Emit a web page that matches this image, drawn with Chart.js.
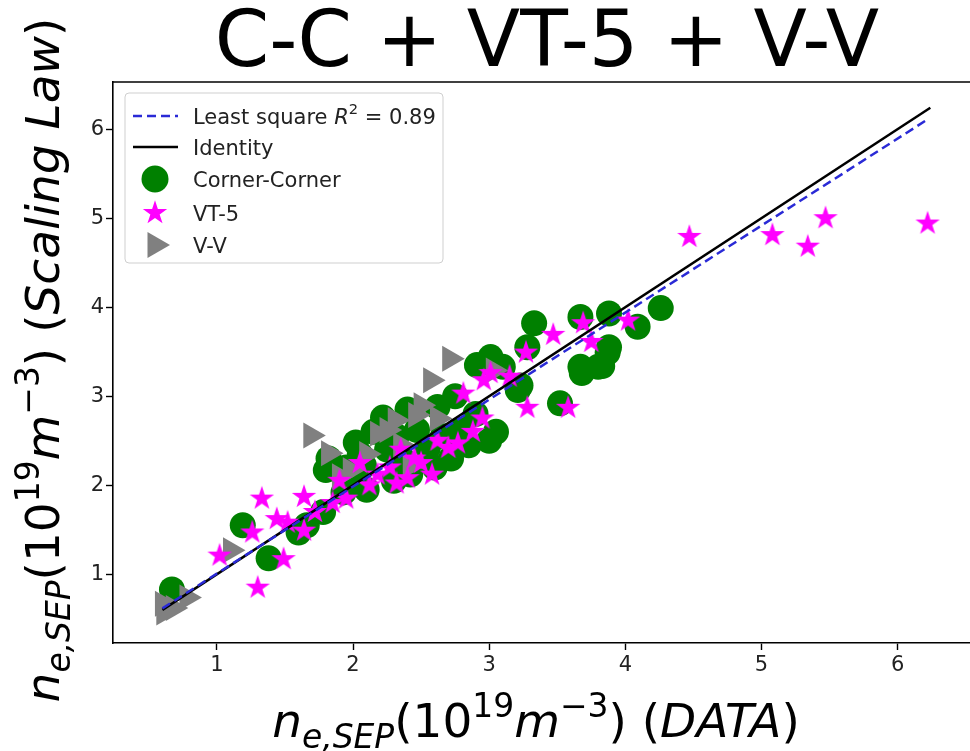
<!DOCTYPE html>
<html>
<head>
<meta charset="utf-8">
<script src="https://cdn.jsdelivr.net/npm/chart.js@4.4.0/dist/chart.umd.min.js"></script>
<style>
  html, body { margin: 0; padding: 0; background: #fff; overflow: hidden; }
  #wrap { width: 990px; height: 751px; }
</style>
</head>
<body>
<div id="wrap"><canvas id="chart" width="990" height="751"></canvas></div>
<script>
const titleText = "C-C + VT-5 + V-V"
const xTicks = [1, 2, 3, 4, 5, 6]
const yTicks = [1, 2, 3, 4, 5, 6]

// Corner-Corner (green circles)
const ccX = [0.67, 1.19, 1.38, 1.60, 1.66, 1.80, 1.82, 2.02, 1.78, 1.93, 2.00, 2.08, 2.15, 2.22, 2.25, 2.32, 2.36, 2.42, 2.47, 2.55,
             2.62, 2.66, 2.72, 2.78, 2.85, 2.91, 3.00, 3.05, 3.10, 3.01, 3.21, 3.23, 3.33, 3.28, 3.52, 3.67, 3.80, 3.67, 3.88, 3.88,
             4.09, 4.26, 2.10, 2.30, 2.90, 2.40, 2.05, 1.95, 2.60, 2.75, 3.68, 3.83, 3.87]
const ccY = [0.83, 1.55, 1.18, 1.47, 1.55, 2.17, 2.30, 2.48, 1.70, 1.92, 2.05, 2.22, 2.60, 2.76, 2.40, 2.55, 2.30, 2.12, 2.62, 2.42,
             2.88, 2.55, 2.30, 2.62, 2.45, 3.35, 2.50, 2.60, 3.33, 3.44, 3.07, 3.12, 3.82, 3.55, 2.92, 3.33, 3.33, 3.89, 3.93, 3.55,
             3.78, 3.99, 1.95, 2.05, 2.80, 2.85, 2.35, 2.20, 2.20, 3.00, 3.26, 3.34, 3.49]

// VT-5 (magenta stars)
const vtX = [1.02, 1.26, 1.30, 1.33, 1.44, 1.49, 1.64, 1.64, 1.52, 1.72, 1.85, 1.95, 2.05, 2.12, 2.27, 2.32, 2.40, 2.50, 2.58, 2.35,
             2.77, 2.70, 2.81, 2.95, 2.96, 3.01, 3.28, 3.27, 3.47, 3.58, 3.69, 3.75, 4.02, 4.47, 5.08, 5.34, 5.47, 6.22, 2.18, 1.90,
             2.62, 2.88, 3.15, 2.45]
const vtY = [1.21, 1.47, 0.85, 1.85, 1.62, 1.17, 1.49, 1.87, 1.58, 1.70, 1.80, 1.85, 2.25, 2.00, 2.20, 2.02, 2.08, 2.25, 2.12, 2.40,
             2.47, 2.42, 3.03, 2.75, 3.18, 3.26, 2.87, 3.49, 3.69, 2.87, 3.82, 3.61, 3.85, 4.79, 4.81, 4.68, 5.00, 4.94, 2.12, 2.05,
             2.50, 2.60, 3.22, 2.30]

// V-V (gray triangles)
const vvX = [0.60, 0.61, 0.78, 0.68, 1.10, 1.69, 1.82, 1.98, 2.18, 2.25, 2.31, 2.46, 2.50, 2.57, 2.71, 2.42, 3.03, 2.62, 2.10, 2.35, 1.90]
const vvY = [0.67, 0.57, 0.74, 0.62, 1.27, 2.56, 2.36, 2.17, 2.58, 2.62, 2.73, 2.79, 2.90, 3.18, 3.42, 2.22, 3.29, 2.75, 2.35, 2.45, 2.10]

// fitted lines
const identityX = [0.60, 6.24]
const lsqX = [0.60, 6.21]
const lsqY = [0.617, 6.10]
const r2 = "0.89"

const FONT = '"DejaVu Sans", sans-serif'

function pts(xs, ys) {
    return xs.map((x, i) => ({ x: x, y: ys[i] }))
}

function makeStar(r, color) {
    const c = document.createElement("canvas")
    const s = Math.ceil(r * 2 + 2)
    c.width = s
    c.height = s
    const g = c.getContext("2d")
    g.fillStyle = color
    g.beginPath()
    for (let i = 0; i < 10; i++) {
        const rr = i % 2 == 0 ? r : r * 0.382
        const a = -Math.PI / 2 + i * Math.PI / 5
        g.lineTo(s / 2 + rr * Math.cos(a), s / 2 + rr * Math.sin(a))
    }
    g.closePath()
    g.fill()
    return c
}
const starImg = makeStar(12.8, "#ff00ff")

function partFont(p, size) {
    const sz = (p.sub || p.sup) ? size * 0.7 : size
    return (p.it ? "italic " : "") + sz + "px " + FONT
}

// draws mixed text with sub/superscripts; align 'center' or 'left'
function drawMath(ctx, parts, x, baseY, size, align) {
    let total = 0
    parts.forEach(p => {
        ctx.font = partFont(p, size)
        p.w = ctx.measureText(p.t).width
        total += p.w
    })
    let cx = align == "left" ? x : x - total / 2
    ctx.textBaseline = "alphabetic"
    ctx.textAlign = "left"
    parts.forEach(p => {
        ctx.font = partFont(p, size)
        let dy = 0
        if (p.sub) dy = size * 0.24
        if (p.sup) dy = -size * 0.43
        ctx.fillText(p.t, cx, baseY + dy)
        cx += p.w
    })
}

const xLabel = [
    { t: "n", it: true }, { t: "e,SEP", it: true, sub: true },
    { t: "(10" }, { t: "19", sup: true }, { t: "m", it: true }, { t: "\u22123", sup: true },
    { t: ") " }, { t: "(" }, { t: "DATA", it: true }, { t: ")" }
]
const yLabel = [
    { t: "n", it: true }, { t: "e,SEP", it: true, sub: true },
    { t: "(10" }, { t: "19", sup: true }, { t: "m", it: true }, { t: "\u22123", sup: true },
    { t: ") " }, { t: "(" }, { t: "Scaling Law", it: true }, { t: ")" }
]

const decorPlugin = {
    id: "decor",
    afterDraw(chart) {
        const ctx = chart.ctx
        const a = chart.chartArea
        ctx.save()
        // top spine
        ctx.strokeStyle = "#000"
        ctx.lineWidth = 1.6
        ctx.beginPath()
        ctx.moveTo(a.left, a.top)
        ctx.lineTo(a.right, a.top)
        ctx.stroke()

        // title
        ctx.fillStyle = "#000"
        ctx.font = "78px " + FONT
        ctx.textAlign = "center"
        ctx.textBaseline = "alphabetic"
        ctx.fillText(titleText, 547, 66)

        // axis labels
        drawMath(ctx, xLabel, 536, 737, 47, "center")
        ctx.save()
        ctx.translate(59, 360)
        ctx.rotate(-Math.PI / 2)
        drawMath(ctx, yLabel, 0, 0, 47, "center")
        ctx.restore()

        // legend
        const lx = a.left + 12, ly = a.top + 11, lw = 318, lh = 170
        ctx.beginPath()
        ctx.roundRect(lx, ly, lw, lh, 4)
        ctx.fillStyle = "rgba(255,255,255,0.8)"
        ctx.fill()
        ctx.strokeStyle = "#cfcfcf"
        ctx.lineWidth = 1
        ctx.stroke()

        const rows = [116, 147, 179, 213, 245]
        const hx = 155, tx = 193, fs = 21
        // least square
        ctx.strokeStyle = "#2a2ad6"
        ctx.lineWidth = 2.5
        ctx.setLineDash([9, 5])
        ctx.beginPath()
        ctx.moveTo(133, rows[0])
        ctx.lineTo(178, rows[0])
        ctx.stroke()
        ctx.setLineDash([])
        // identity
        ctx.strokeStyle = "#000"
        ctx.beginPath()
        ctx.moveTo(133, rows[1])
        ctx.lineTo(178, rows[1])
        ctx.stroke()
        // circle
        ctx.fillStyle = "#008000"
        ctx.beginPath()
        ctx.arc(hx, rows[2], 13.5, 0, Math.PI * 2)
        ctx.fill()
        // star
        ctx.drawImage(starImg, hx - starImg.width / 2, rows[3] - starImg.height / 2)
        // triangle
        ctx.fillStyle = "#808080"
        ctx.beginPath()
        ctx.moveTo(hx + 15, rows[4])
        ctx.lineTo(hx - 7.5, rows[4] - 13)
        ctx.lineTo(hx - 7.5, rows[4] + 13)
        ctx.closePath()
        ctx.fill()

        ctx.fillStyle = "#222"
        const off = 7.5
        drawMath(ctx, [{ t: "Least square " }, { t: "R", it: true }, { t: "2", sup: true }, { t: " = " + r2 }], tx, rows[0] + off, fs, "left")
        drawMath(ctx, [{ t: "Identity" }], tx, rows[1] + off, fs, "left")
        drawMath(ctx, [{ t: "Corner-Corner" }], tx, rows[2] + off, fs, "left")
        drawMath(ctx, [{ t: "VT-5" }], tx, rows[3] + off, fs, "left")
        drawMath(ctx, [{ t: "V-V" }], tx, rows[4] + off, fs, "left")
        ctx.restore()
    }
}

new Chart(document.getElementById("chart"), {
    type: "scatter",
    data: {
        datasets: [
            {
                label: "Least square",
                data: pts(lsqX, lsqY),
                showLine: true,
                borderColor: "#2a2ad6",
                borderWidth: 2.5,
                borderDash: [9, 5],
                pointRadius: 0,
                order: 0
            },
            {
                label: "Identity",
                data: pts(identityX, identityX),
                showLine: true,
                borderColor: "#000",
                borderWidth: 2.5,
                pointRadius: 0,
                order: 0
            },
            {
                label: "Corner-Corner",
                data: pts(ccX, ccY),
                pointStyle: "circle",
                pointRadius: 13,
                backgroundColor: "#008000",
                borderWidth: 0,
                order: 3
            },
            {
                label: "V-V",
                data: pts(vvX, vvY),
                pointStyle: "triangle",
                rotation: 90,
                pointRadius: 15,
                backgroundColor: "#808080",
                borderWidth: 0,
                order: 2
            },
            {
                label: "VT-5",
                data: pts(vtX, vtY),
                pointStyle: starImg,
                pointRadius: 13,
                backgroundColor: "#ff00ff",
                borderWidth: 0,
                order: 1
            }
        ]
    },
    options: {
        responsive: false,
        animation: false,
        layout: { padding: { top: 82, left: 0, right: 10, bottom: 0 } },
        plugins: {
            legend: { display: false },
            tooltip: { enabled: false },
            title: { display: false }
        },
        scales: {
            x: {
                type: "linear",
                min: 0.237,
                max: 6.568,
                afterBuildTicks: s => { s.ticks = xTicks.map(v => ({ value: v })) },
                afterFit: s => { s.height = 108 },
                ticks: { color: "#222", font: { family: FONT, size: 21 }, padding: 3, maxRotation: 0 },
                grid: { drawOnChartArea: false, drawTicks: true, tickLength: 7, color: "#000", tickWidth: 1.4 },
                border: { display: true, color: "#000", width: 1.6 }
            },
            y: {
                type: "linear",
                min: 0.228,
                max: 6.53,
                afterBuildTicks: s => { s.ticks = yTicks.map(v => ({ value: v })) },
                afterFit: s => { s.width = 113 },
                ticks: { color: "#222", font: { family: FONT, size: 21 }, padding: 2 },
                grid: { drawOnChartArea: false, drawTicks: true, tickLength: 7, color: "#000", tickWidth: 1.4 },
                border: { display: true, color: "#000", width: 1.6 }
            }
        }
    },
    plugins: [decorPlugin]
})
</script>
</body>
</html>
